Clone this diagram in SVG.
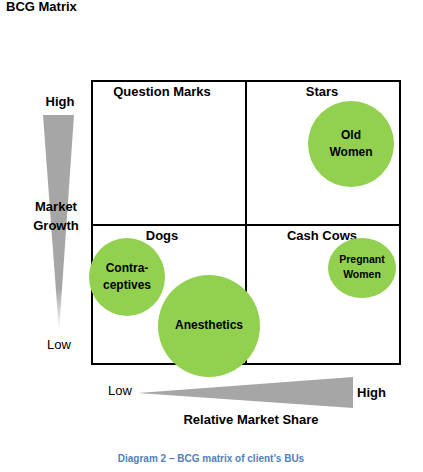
<svg xmlns="http://www.w3.org/2000/svg" width="423" height="472" viewBox="0 0 423 472">
<style>
text{font-family:"Liberation Sans",Arial,sans-serif;fill:#000}
.b{font-weight:bold}
.q{font-size:13px;font-weight:bold;text-anchor:middle}
.n{font-size:12px;font-weight:bold;text-anchor:middle}
.bub{fill:#92d050}
.grid{fill:none;stroke:#000;stroke-width:2}
</style>
<defs>
<linearGradient id="gv" x1="0" y1="0" x2="0" y2="1">
<stop offset="0" stop-color="#a6a6a6"/>
<stop offset="0.8" stop-color="#a6a6a6"/>
<stop offset="1" stop-color="#ffffff"/>
</linearGradient>
</defs>
<rect width="423" height="472" fill="#fff"/>
<text x="6" y="11" class="b" font-size="13">BCG Matrix</text>
<g id="axes">
<polygon points="43,115 74,115 59,332" fill="url(#gv)"/>
<text x="60" y="106" class="q">High</text>
<text x="56" y="211" class="q">Market</text>
<text x="56" y="230" class="q">Growth</text>
<text x="59" y="349" font-size="13" text-anchor="middle">Low</text>
<polygon points="138,393 353,377 353,408" fill="#a6a6a6"/>
<text x="120" y="395" font-size="13" text-anchor="middle">Low</text>
<text x="357" y="397" class="b" font-size="13">High</text>
<text x="251" y="424" class="q">Relative Market Share</text>
</g>
<g id="grid">
<rect x="92" y="81" width="308" height="283" class="grid"/>
<line x1="246" y1="81" x2="246" y2="364" class="grid"/>
<line x1="92" y1="225" x2="400" y2="225" class="grid"/>
<text x="162" y="96" class="q">Question Marks</text>
<text x="322" y="96" class="q">Stars</text>
<text x="162" y="240" class="q">Dogs</text>
<text x="322" y="240" class="q">Cash Cows</text>
</g>
<g id="old-women">
<circle cx="351" cy="144" r="43" class="bub"/>
<text x="351" y="139" class="n">Old</text>
<text x="351" y="156" class="n">Women</text>
</g>
<g id="pregnant-women">
<ellipse cx="362" cy="268" rx="34" ry="30" class="bub"/>
<text x="362" y="263" font-size="10.5" class="b" text-anchor="middle">Pregnant</text>
<text x="362" y="278" font-size="10.5" class="b" text-anchor="middle">Women</text>
</g>
<g id="contraceptives">
<ellipse cx="127" cy="277" rx="38" ry="39" class="bub"/>
<text x="127" y="272" class="n">Contra-</text>
<text x="127" y="289" class="n">ceptives</text>
</g>
<g id="anesthetics">
<circle cx="209" cy="326" r="51" class="bub"/>
<text x="209" y="329" class="n">Anesthetics</text>
</g>
<text x="211" y="462" class="b" font-size="10" text-anchor="middle" style="fill:#4f81bd">Diagram 2 – BCG matrix of client’s BUs</text>
</svg>
